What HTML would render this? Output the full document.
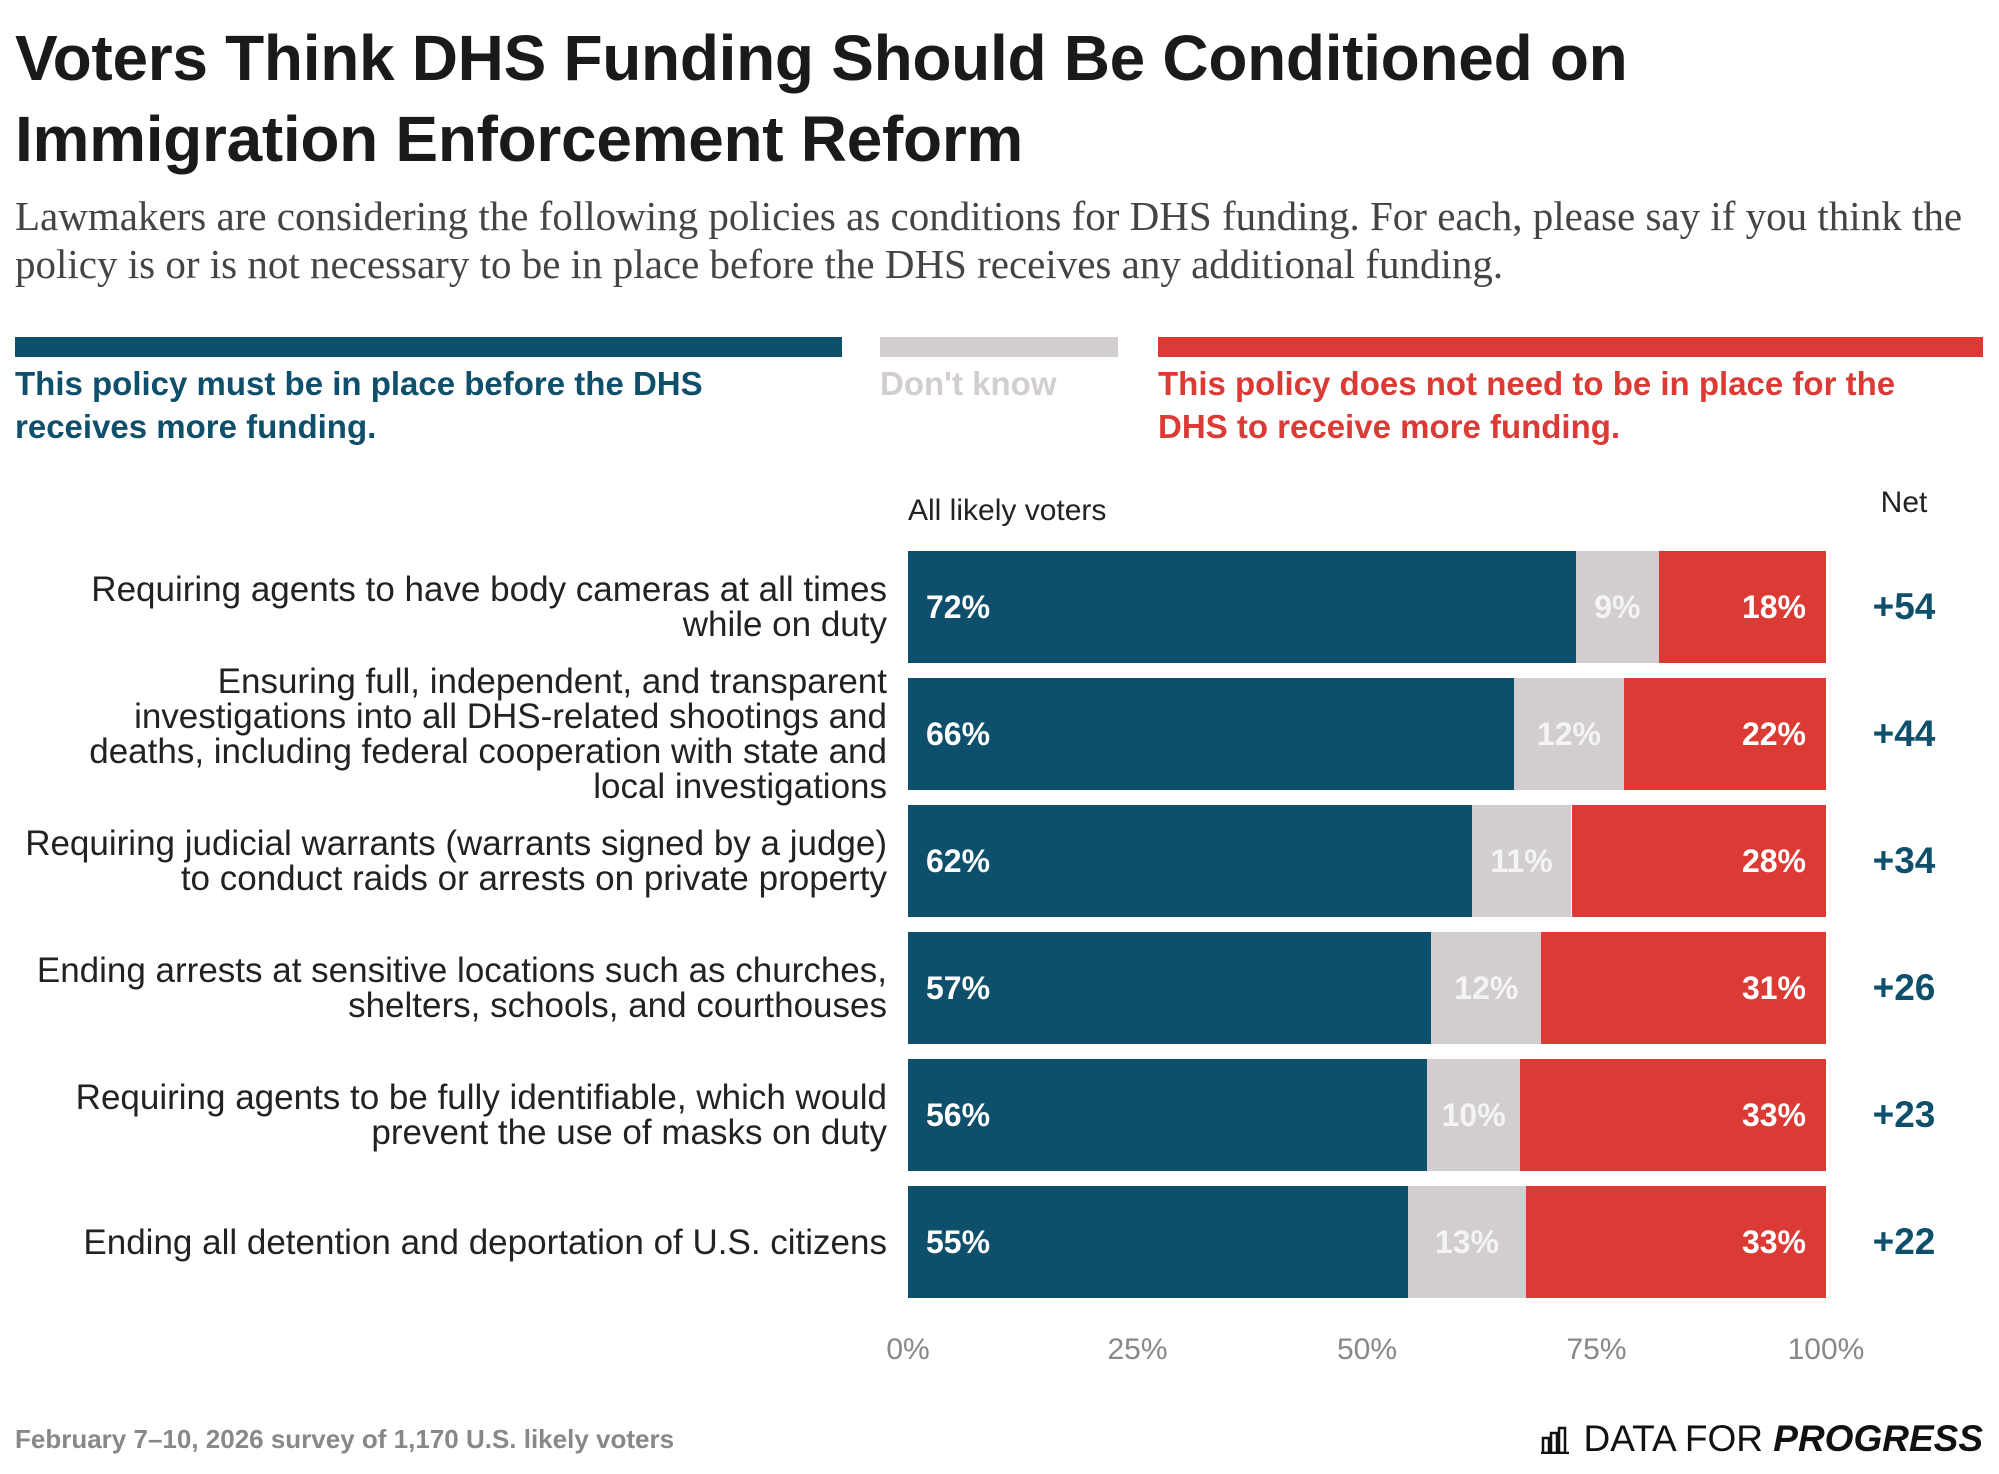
<!DOCTYPE html>
<html><head><meta charset="utf-8"><style>
body{margin:0;background:#fff;width:1999px;height:1474px;overflow:hidden;font-family:"Liberation Sans",sans-serif}
.abs{position:absolute}
</style></head><body>
<div style="position:relative;width:1999px;height:1474px">
<div class="abs" style="left:15px;top:18px;font-size:64px;font-weight:bold;line-height:81px;color:#1a1a1a;letter-spacing:-0.3px">Voters Think DHS Funding Should Be Conditioned on<br>Immigration Enforcement Reform</div>
<div class="abs" style="left:15px;top:192px;width:1990px;font-family:'Liberation Serif',serif;font-size:41px;line-height:48px;color:#444;white-space:nowrap">Lawmakers are considering the following policies as conditions for DHS funding. For each, please say if you think the<br>policy is or is not necessary to be in place before the DHS receives any additional funding.</div>
<div class="abs" style="left:15px;top:337px;width:827px;height:20px;background:#0e4f6b"></div>
<div class="abs" style="left:880px;top:337px;width:238px;height:20px;background:#d1cdd0"></div>
<div class="abs" style="left:1158px;top:337px;width:825px;height:20px;background:#db3a35"></div>
<div class="abs" style="left:15px;top:362px;font-size:33px;font-weight:bold;line-height:43px;color:#0e4f6b">This policy must be in place before the DHS<br>receives more funding.</div>
<div class="abs" style="left:880px;top:362px;font-size:33px;font-weight:bold;line-height:43px;color:#d1cdd0">Don't know</div>
<div class="abs" style="left:1158px;top:362px;font-size:33px;font-weight:bold;line-height:43px;color:#db3a35">This policy does not need to be in place for the<br>DHS to receive more funding.</div>
<div class="abs" style="left:908px;top:494px;font-size:30px;color:#222">All likely voters</div>
<div class="abs" style="left:1854px;top:486px;width:100px;text-align:center;font-size:30px;color:#222">Net</div>
<div id="chart"></div>
<div class="abs" style="left:15px;top:1424px;font-size:26px;font-weight:bold;color:#888">February 7–10, 2026 survey of 1,170 U.S. likely voters</div>
<div class="abs" style="right:16px;top:1418px;font-size:37px;color:#111;white-space:nowrap">
<svg width="32" height="30" viewBox="0 0 32 30" style="vertical-align:-3px"><g fill="none" stroke="#111" stroke-width="2.5"><rect x="2" y="14" width="6" height="15"/><rect x="10" y="9" width="6" height="20"/><rect x="18" y="4" width="6" height="25"/><line x1="0" y1="29" x2="28" y2="29"/></g></svg>
DATA FOR <b><i>PROGRESS</i></b></div>
</div>
<script>
const labels=[["Requiring agents to have body cameras at all times","while on duty"],["Ensuring full, independent, and transparent","investigations into all DHS-related shootings and","deaths, including federal cooperation with state and","local investigations"],["Requiring judicial warrants (warrants signed by a judge)","to conduct raids or arrests on private property"],["Ending arrests at sensitive locations such as churches,","shelters, schools, and courthouses"],["Requiring agents to be fully identifiable, which would","prevent the use of masks on duty"],["Ending all detention and deportation of U.S. citizens"]];
const mustVals=[72,66,62,57,56,55];
const dkVals=[9,12,11,12,10,13];
const notVals=[18,22,28,31,33,33];
const ticks=[0,25,50,75,100];
const x0=908,x1=1826,y0=551,step=127,bh=112;
const xs=p=>x0+(x1-x0)*p/100;
const c=document.getElementById('chart');
function add(tag,style,text){const e=document.createElement(tag);e.className='abs';e.style.cssText=style;if(text!==undefined)e.textContent=text;c.appendChild(e);return e;}
labels.forEach((lab,i)=>{
 const y=y0+i*step, tot=mustVals[i]+dkVals[i]+notVals[i];
 const segs=[[mustVals[i],'#0e4f6b','#fff','left'],[dkVals[i],'#d1cdd0','#f4f4f4','center'],[notVals[i],'#db3a35','#fff','right']];
 let acc=0;
 segs.forEach((s,k)=>{
  const a=xs(acc/tot*100), b=xs((acc+s[0])/tot*100); acc+=s[0];
  const el=add('div',`left:${a}px;top:${y}px;width:${b-a}px;height:${bh}px;background:${s[1]};`);
  
  
  const t=add('div',`left:${a+(k==0?18:0)}px;top:${y}px;width:${b-a-(k==0?18:k==2?20:0)}px;height:${bh}px;line-height:${bh}px;text-align:${s[3]};font-size:32px;font-weight:bold;color:${s[2]}`,s[0]+'%');
  
  
 });
 const n=mustVals[i]-notVals[i];
 const nt=add('div',`left:1854px;top:${y}px;width:100px;height:${bh}px;line-height:${bh}px;text-align:center;font-size:37px;font-weight:bold;color:#0e4f6b`,(n>=0?'+':'')+n);
 
 
 const lh=35;
 const lt=add('div',`left:0;width:887px;top:${y+bh/2-lab.length*lh/2}px;text-align:right;font-size:35px;line-height:${lh}px;color:#222;white-space:nowrap`);
 lt.innerHTML=lab.join('<br>');
 
 
});
ticks.forEach(t=>{
 const e=add('div',`left:${xs(t)-60}px;width:120px;text-align:center;top:1333px;font-size:30px;color:#888`,t+'%');
 
 
});
</script>
</body></html>
